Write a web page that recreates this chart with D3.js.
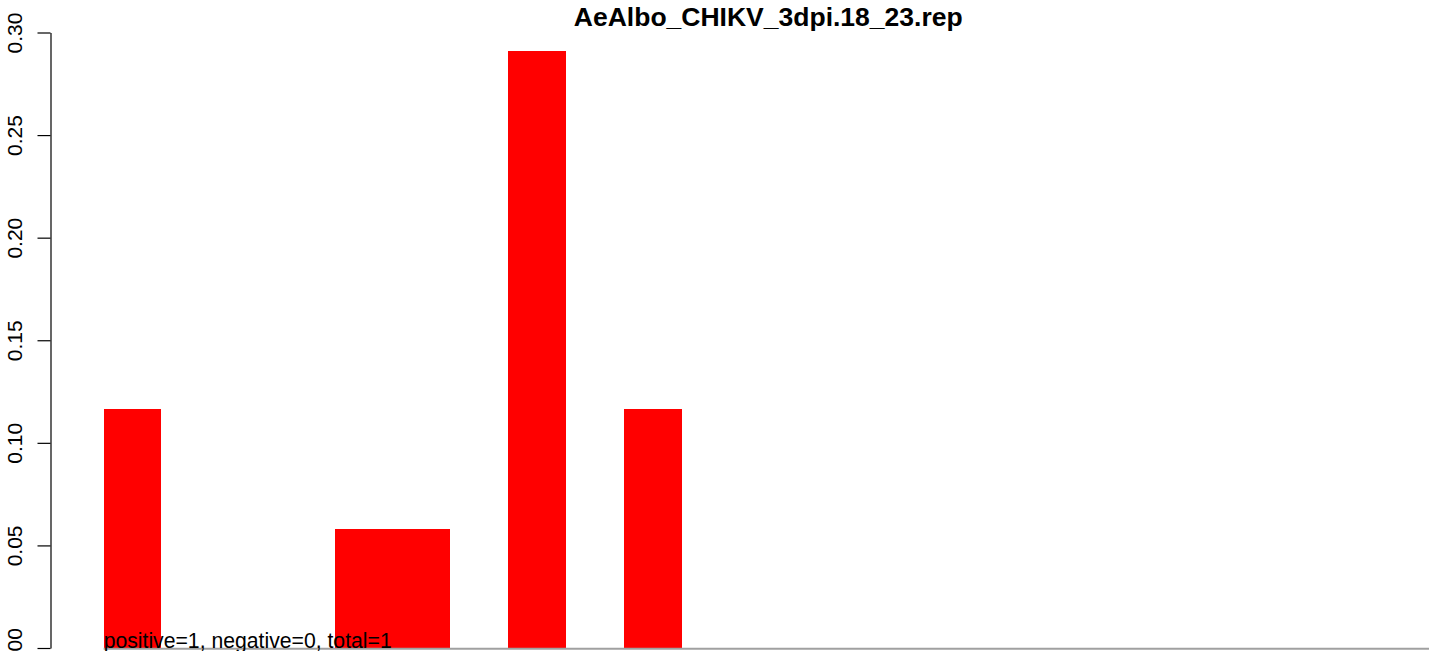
<!DOCTYPE html>
<html><head><meta charset="utf-8">
<script src="https://cdn.jsdelivr.net/npm/d3@7"></script>
<style>body{margin:0;background:#fff;}svg{display:block;font-family:"Liberation Sans",Arial,sans-serif;}</style>
</head><body>
<script>
const title = "AeAlbo_CHIKV_3dpi.18_23.rep";
const note = "positive=1, negative=0, total=1";
const categories = d3.range(1, 24).map(String);
const values = [0.1164, 0, 0, 0, 0.0582, 0.0582, 0, 0.291, 0, 0.1164, 0, 0, 0, 0, 0, 0, 0, 0, 0, 0, 0, 0, 0];
const yTicks = [0, 0.05, 0.10, 0.15, 0.20, 0.25, 0.30];

const W = 1429, H = 651;
const svg = d3.select("body").append("svg").attr("width", W).attr("height", H);

// plot region (R style, extends beyond right edge)
const left = 50.5, right = 1486;
const n = categories.length;
const x = d3.scaleLinear().domain([-0.04 * n, n * 1.04]).range([left, right]);
const y = d3.scaleLinear().domain([0, 0.30]).range([648, 32.5]);

// bars
svg.append("g").attr("shape-rendering", "crispEdges")
  .selectAll("rect.bar").data(values).join("rect")
  .attr("class", "bar")
  .attr("x", (d, i) => x(i))
  .attr("width", (d, i) => x(i + 1) - x(i))
  .attr("y", d => y(d))
  .attr("height", d => y(0) - y(d))
  .attr("fill", "#ff0000");

// baseline
svg.append("line")
  .attr("x1", x(0)).attr("x2", x(n))
  .attr("y1", y(0) + 0.8).attr("y2", y(0) + 0.8)
  .attr("stroke", "#a0a0a0").attr("stroke-width", 2);

// y axis
const yAxis = d3.axisLeft(y).tickValues(yTicks).tickFormat(d3.format(".2f")).tickSize(13).tickSizeOuter(0);
const ga = svg.append("g").attr("transform", `translate(${left},0)`).call(yAxis);
ga.attr("font-size", null).attr("font-family", null);
ga.select(".domain").attr("stroke", "#000").attr("stroke-width", 1.2);
ga.selectAll(".tick line").attr("stroke", "#000").attr("stroke-width", 1.2);
ga.selectAll(".tick text")
  .style("font-size", "21px").attr("fill", "#000")
  .style("font-family", "'Liberation Sans', Arial, sans-serif")
  .attr("text-anchor", "middle")
  .attr("transform", "rotate(-90)")
  .attr("x", 0).attr("y", -28.5).attr("dy", 0);

// title
svg.append("text")
  .attr("x", (left + right) / 2).attr("y", 26)
  .attr("text-anchor", "middle")
  .attr("font-weight", "bold").style("font-size", "26.5px")
  .text(title);

// note
svg.append("text")
  .attr("x", x(0)).attr("y", 648)
  .style("font-size", "21.2px")
  .text(note);
</script>
</body></html>
